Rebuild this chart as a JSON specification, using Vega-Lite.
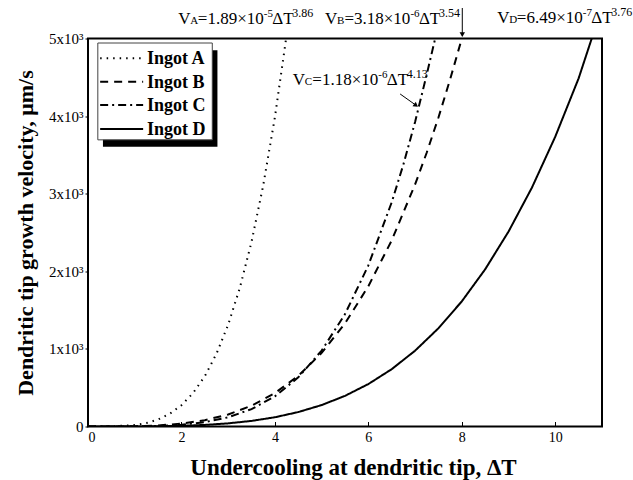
{
  "$schema": "https://vega.github.io/schema/vega-lite/v6.json",
  "width": 514,
  "height": 388,
  "autosize": "none",
  "padding": {"left": 88, "top": 38.5, "right": 31, "bottom": 53.5},
  "background": "white",
  "config": {
    "font": "Liberation Serif",
    "view": {"stroke": "black", "strokeWidth": 2},
    "axis": {"grid": false, "domain": false, "labelFont": "Liberation Serif", "titleFont": "Liberation Serif", "labelColor": "black", "titleColor": "black", "tickColor": "black", "labelFontSize": 14, "titleFontSize": 23, "titleFontWeight": "bold"}
  },
  "datasets": {
    "curves": [
      {"x": 0, "v": 0, "ingot": "A"}, {"x": 0.5, "v": 1.3, "ingot": "A"}, {"x": 1, "v": 18.9, "ingot": "A"}, {"x": 1.25, "v": 44.7, "ingot": "A"}, {"x": 1.5, "v": 90.4, "ingot": "A"}, {"x": 1.75, "v": 164, "ingot": "A"}, {"x": 2, "v": 274, "ingot": "A"}, {"x": 2.25, "v": 432, "ingot": "A"}, {"x": 2.5, "v": 649, "ingot": "A"}, {"x": 2.75, "v": 938, "ingot": "A"}, {"x": 3, "v": 1312, "ingot": "A"}, {"x": 3.25, "v": 1788, "ingot": "A"}, {"x": 3.5, "v": 2380, "ingot": "A"}, {"x": 3.75, "v": 3107, "ingot": "A"}, {"x": 4, "v": 3986, "ingot": "A"}, {"x": 4.24, "v": 5000, "ingot": "A"},
      {"x": 0, "v": 0, "ingot": "B"}, {"x": 0.5, "v": 0.27, "ingot": "B"}, {"x": 1, "v": 3.18, "ingot": "B"}, {"x": 1.5, "v": 13.4, "ingot": "B"}, {"x": 2, "v": 37, "ingot": "B"}, {"x": 2.5, "v": 81.5, "ingot": "B"}, {"x": 3, "v": 155, "ingot": "B"}, {"x": 3.5, "v": 268, "ingot": "B"}, {"x": 4, "v": 430, "ingot": "B"}, {"x": 4.5, "v": 653, "ingot": "B"}, {"x": 5, "v": 948, "ingot": "B"}, {"x": 5.5, "v": 1328, "ingot": "B"}, {"x": 6, "v": 1808, "ingot": "B"}, {"x": 6.5, "v": 2399, "ingot": "B"}, {"x": 7, "v": 3120, "ingot": "B"}, {"x": 7.25, "v": 3531, "ingot": "B"}, {"x": 7.5, "v": 3982, "ingot": "B"}, {"x": 7.75, "v": 4474, "ingot": "B"}, {"x": 8, "v": 5000, "ingot": "B"},
      {"x": 0, "v": 0, "ingot": "C"}, {"x": 0.5, "v": 0.07, "ingot": "C"}, {"x": 1, "v": 1.27, "ingot": "C"}, {"x": 1.5, "v": 6.8, "ingot": "C"}, {"x": 2, "v": 22.3, "ingot": "C"}, {"x": 2.5, "v": 55.9, "ingot": "C"}, {"x": 3, "v": 118.6, "ingot": "C"}, {"x": 3.5, "v": 224, "ingot": "C"}, {"x": 4, "v": 389, "ingot": "C"}, {"x": 4.5, "v": 633, "ingot": "C"}, {"x": 5, "v": 978, "ingot": "C"}, {"x": 5.5, "v": 1448, "ingot": "C"}, {"x": 6, "v": 2077, "ingot": "C"}, {"x": 6.5, "v": 2890, "ingot": "C"}, {"x": 6.75, "v": 3377, "ingot": "C"}, {"x": 7, "v": 3925, "ingot": "C"}, {"x": 7.25, "v": 4538, "ingot": "C"}, {"x": 7.43, "v": 5000, "ingot": "C"},
      {"x": 0, "v": 0, "ingot": "D"}, {"x": 0.5, "v": 0.05, "ingot": "D"}, {"x": 1, "v": 0.65, "ingot": "D"}, {"x": 1.5, "v": 3, "ingot": "D"}, {"x": 2, "v": 8.8, "ingot": "D"}, {"x": 2.5, "v": 20.3, "ingot": "D"}, {"x": 3, "v": 40.4, "ingot": "D"}, {"x": 3.5, "v": 72.1, "ingot": "D"}, {"x": 4, "v": 119, "ingot": "D"}, {"x": 4.5, "v": 186, "ingot": "D"}, {"x": 5, "v": 276, "ingot": "D"}, {"x": 5.5, "v": 395, "ingot": "D"}, {"x": 6, "v": 547, "ingot": "D"}, {"x": 6.5, "v": 739, "ingot": "D"}, {"x": 7, "v": 977, "ingot": "D"}, {"x": 7.5, "v": 1266, "ingot": "D"}, {"x": 8, "v": 1613, "ingot": "D"}, {"x": 8.5, "v": 2026, "ingot": "D"}, {"x": 9, "v": 2512, "ingot": "D"}, {"x": 9.5, "v": 3078, "ingot": "D"}, {"x": 10, "v": 3735, "ingot": "D"}, {"x": 10.5, "v": 4487, "ingot": "D"}, {"x": 10.78, "v": 5000, "ingot": "D"}
    ],
    "legendRows": [
      {"x": 0.26, "x2": 1.18, "y": 4745, "tx": 1.26, "ingot": "A", "label": "Ingot A"},
      {"x": 0.26, "x2": 1.18, "y": 4444, "tx": 1.26, "ingot": "B", "label": "Ingot B"},
      {"x": 0.26, "x2": 1.18, "y": 4144, "tx": 1.26, "ingot": "C", "label": "Ingot C"},
      {"x": 0.26, "x2": 1.18, "y": 3835, "tx": 1.26, "ingot": "D", "label": "Ingot D"}
    ],
    "labels": [
      {"x": 1.934, "y": 5183, "sub": "A", "coef": "=1.89×10", "exp": "-5", "pw": "3.86"},
      {"x": 5.07, "y": 5187, "sub": "B", "coef": "=3.18×10", "exp": "-6", "pw": "3.54"},
      {"x": 4.383, "y": 4401, "sub": "C", "coef": "=1.18×10", "exp": "-6", "pw": "4.13"},
      {"x": 8.76, "y": 5196, "sub": "D", "coef": "=6.49×10", "exp": "-7", "pw": "3.76"}
    ],
    "arrows": [
      {"x": 8.01, "y": 5393, "x2": 8.01, "y2": 5040},
      {"x": 6.68, "y": 4285, "x2": 7.03, "y2": 4135}
    ],
    "heads": [
      {"x": 8.01, "y": 5050, "shape": "triangle-down", "angle": 0},
      {"x": 7.02, "y": 4138, "shape": "triangle-right", "angle": 37}
    ]
  },
  "layer": [
    {
      "data": {"name": "curves"},
      "mark": {"type": "line", "color": "black", "strokeWidth": 2, "clip": true},
      "encoding": {
        "x": {"field": "x", "type": "quantitative", "scale": {"domain": [0, 11], "nice": false},
          "axis": {"values": [0, 2, 4, 6, 8, 10], "tickSize": -5, "labelPadding": 9, "labelFont": "Liberation Serif", "labelFontSize": 14, "title": "Undercooling at dendritic tip, ΔT", "titleFont": "Liberation Serif", "titleX": 265, "titlePadding": 12}},
        "y": {"field": "v", "type": "quantitative", "scale": {"domain": [0, 5000], "nice": false},
          "axis": {"values": [0, 1000, 2000, 3000, 4000, 5000], "tickSize": 3, "labelPadding": 2, "labelFont": "Liberation Serif", "labelFontSize": 15, "labelExpr": "datum.value == 0 ? '0' : (datum.value / 1000) + 'x10³'", "title": "Dendritic tip growth velocity, μm/s", "titleFont": "Liberation Serif", "titleFontSize": 22, "titlePadding": 11}},
        "strokeDash": {"field": "ingot", "type": "nominal", "scale": {"domain": ["A", "B", "C", "D"], "range": [[1.5, 5], [8, 6], [8, 4, 2, 4], [1, 0]]}, "legend": null}
      }
    },
    {
      "data": {"values": [{"x": 0.32, "x2": 2.77, "y": 4850, "y2": 3604}]},
      "mark": {"type": "rect", "fill": "black"},
      "encoding": {"x": {"field": "x", "type": "quantitative"}, "x2": {"field": "x2"}, "y": {"field": "y", "type": "quantitative"}, "y2": {"field": "y2"}}
    },
    {
      "data": {"values": [{"x": 0.21, "x2": 2.66, "y": 4942, "y2": 3694}]},
      "mark": {"type": "rect", "fill": "white", "stroke": "#444", "strokeWidth": 1},
      "encoding": {"x": {"field": "x", "type": "quantitative"}, "x2": {"field": "x2"}, "y": {"field": "y", "type": "quantitative"}, "y2": {"field": "y2"}}
    },
    {
      "data": {"name": "legendRows"},
      "mark": {"type": "rule", "color": "black", "strokeWidth": 2},
      "encoding": {
        "x": {"field": "x", "type": "quantitative"}, "x2": {"field": "x2"},
        "y": {"field": "y", "type": "quantitative"},
        "strokeDash": {"field": "ingot", "type": "nominal", "legend": null}
      }
    },
    {
      "data": {"name": "legendRows"},
      "mark": {"type": "text", "align": "left", "baseline": "middle", "fontSize": 18, "fontWeight": "bold", "font": "Liberation Serif", "color": "black", "dy": 1},
      "encoding": {"x": {"field": "tx", "type": "quantitative"}, "y": {"field": "y", "type": "quantitative"}, "text": {"field": "label"}}
    },
    {
      "data": {"name": "labels"},
      "mark": {"type": "text", "align": "left", "baseline": "alphabetic", "fontSize": 17, "font": "Liberation Serif", "color": "black", "text": "V"},
      "encoding": {"x": {"field": "x", "type": "quantitative"}, "y": {"field": "y", "type": "quantitative"}}
    },
    {
      "data": {"name": "labels"},
      "mark": {"type": "text", "align": "left", "baseline": "alphabetic", "fontSize": 11, "font": "Liberation Serif", "color": "black", "dx": 12},
      "encoding": {"x": {"field": "x", "type": "quantitative"}, "y": {"field": "y", "type": "quantitative"}, "text": {"field": "sub"}}
    },
    {
      "data": {"name": "labels"},
      "mark": {"type": "text", "align": "left", "baseline": "alphabetic", "fontSize": 17, "font": "Liberation Serif", "color": "black", "dx": 19.5},
      "encoding": {"x": {"field": "x", "type": "quantitative"}, "y": {"field": "y", "type": "quantitative"}, "text": {"field": "coef"}}
    },
    {
      "data": {"name": "labels"},
      "mark": {"type": "text", "align": "left", "baseline": "alphabetic", "fontSize": 11, "font": "Liberation Serif", "color": "black", "dx": 85.5, "dy": -7},
      "encoding": {"x": {"field": "x", "type": "quantitative"}, "y": {"field": "y", "type": "quantitative"}, "text": {"field": "exp"}}
    },
    {
      "data": {"name": "labels"},
      "mark": {"type": "text", "align": "left", "baseline": "alphabetic", "fontSize": 17, "font": "Liberation Serif", "color": "black", "dx": 94, "text": "ΔT"},
      "encoding": {"x": {"field": "x", "type": "quantitative"}, "y": {"field": "y", "type": "quantitative"}}
    },
    {
      "data": {"name": "labels"},
      "mark": {"type": "text", "align": "left", "baseline": "alphabetic", "fontSize": 12, "font": "Liberation Serif", "color": "black", "dx": 114, "dy": -7},
      "encoding": {"x": {"field": "x", "type": "quantitative"}, "y": {"field": "y", "type": "quantitative"}, "text": {"field": "pw"}}
    },
    {
      "data": {"name": "arrows"},
      "mark": {"type": "rule", "color": "black", "strokeWidth": 1},
      "encoding": {"x": {"field": "x", "type": "quantitative"}, "x2": {"field": "x2"}, "y": {"field": "y", "type": "quantitative"}, "y2": {"field": "y2"}}
    },
    {
      "data": {"name": "heads"},
      "mark": {"type": "point", "filled": true, "color": "black", "opacity": 1, "size": 30},
      "encoding": {"x": {"field": "x", "type": "quantitative"}, "y": {"field": "y", "type": "quantitative"}, "shape": {"field": "shape", "type": "nominal", "scale": null}, "angle": {"field": "angle", "type": "quantitative", "scale": null}}
    }
  ]
}
